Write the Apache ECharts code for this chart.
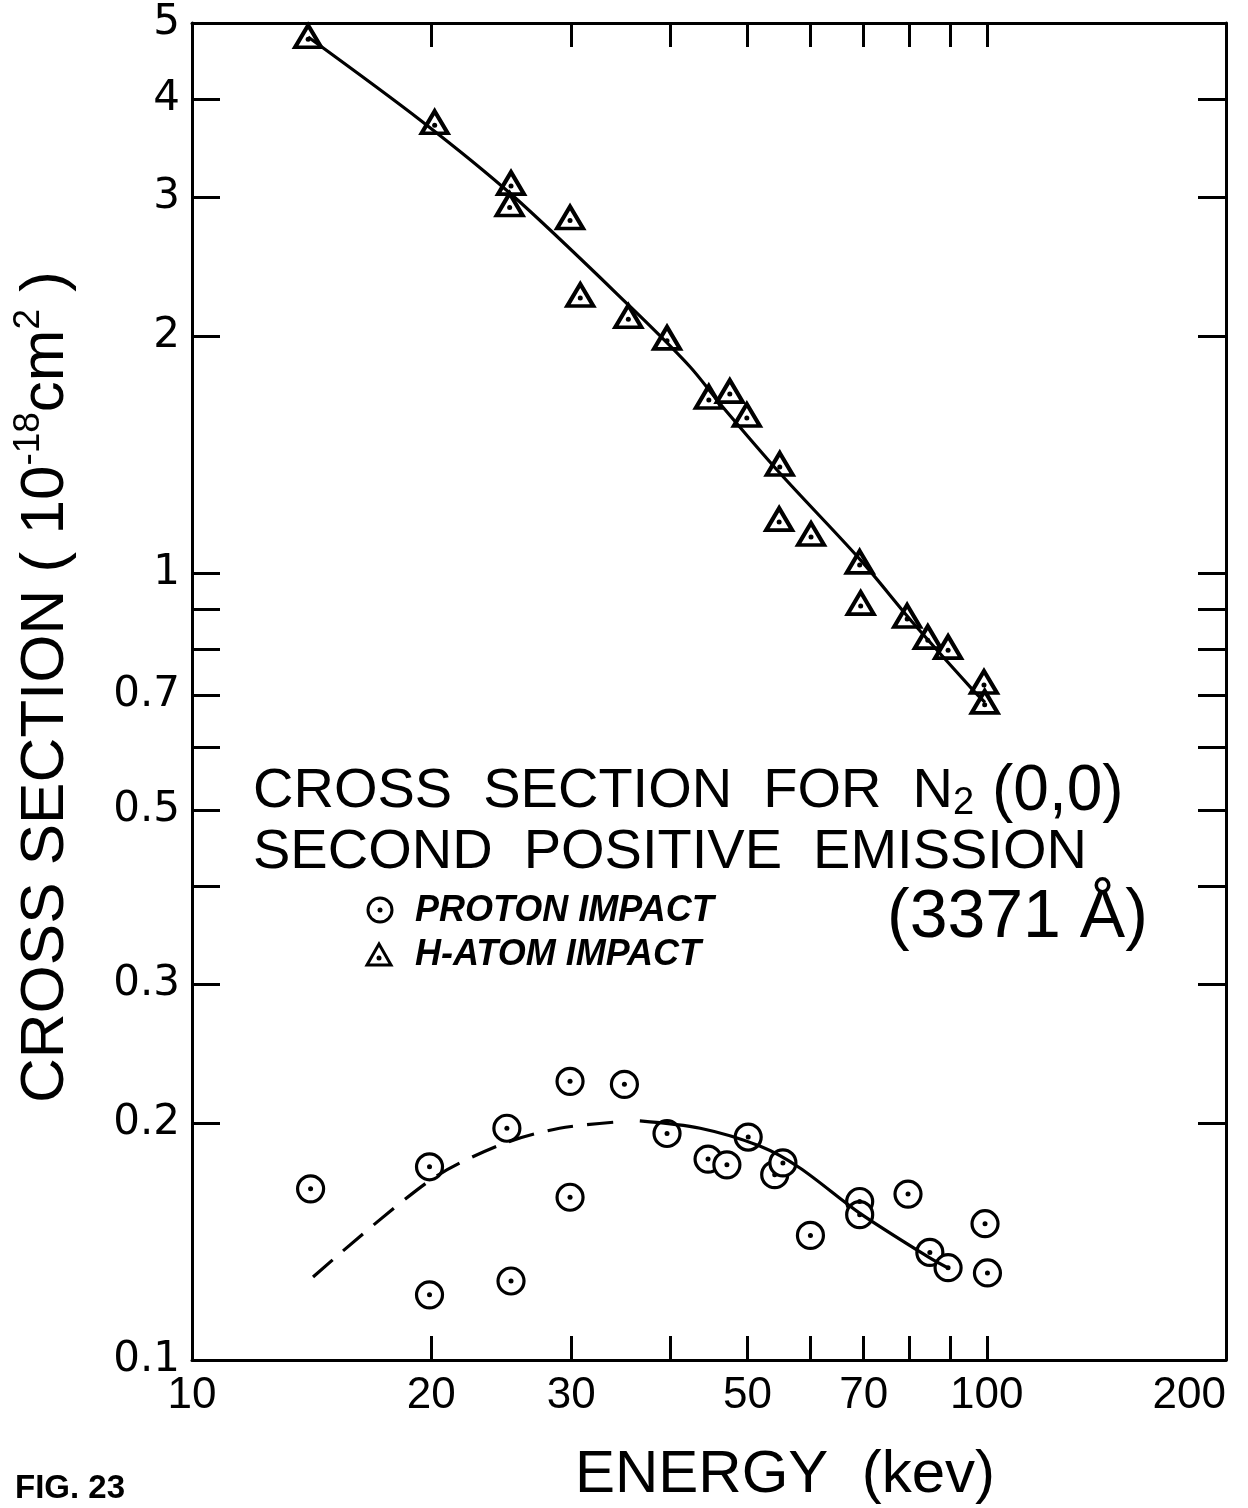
<!DOCTYPE html>
<html><head><meta charset="utf-8">
<script src="https://cdn.jsdelivr.net/npm/echarts@6/dist/echarts.min.js"></script>
<style>html,body{margin:0;padding:0;background:#fff}#c{width:1248px;height:1508px}</style>
</head><body><div id="c"></div>
<script>
// ---- tick / label values ----
const xTickValues = [20, 30, 40, 50, 60, 70, 80, 90, 100];
const xLabelValues = [10, 20, 30, 50, 70, 100, 200];
const yTickValues = [0.2, 0.3, 0.4, 0.5, 0.6, 0.7, 0.8, 0.9, 1, 2, 3, 4];
const yLabelValues = [0.1, 0.2, 0.3, 0.5, 0.7, 1, 2, 3, 4, 5];

// ---- H-atom impact (triangles) ----
const hAtomEnergy = [14, 20.2, 25.2, 25.1, 29.9, 30.8, 35.4, 39.6, 44.7, 47.5, 49.9, 54.9, 54.8, 60.1, 69.2, 69.4, 79.4, 84.3, 89.4, 99.2, 99.4];
const hAtomSigma  = [4.81, 3.74, 3.13, 2.94, 2.83, 2.256, 2.12, 1.99, 1.674, 1.703, 1.588, 1.376, 1.171, 1.121, 1.033, 0.916, 0.882, 0.829, 0.805, 0.727, 0.686];

// ---- proton impact (circles) ----
const protonEnergy = [14.1, 19.9, 19.9, 24.9, 25.2, 29.9, 29.9, 35.0, 39.6, 44.6, 47.1, 50.1, 54.1, 55.4, 60.0, 69.2, 69.2, 79.6, 84.8, 89.4, 99.5, 100.2];
const protonSigma  = [0.165, 0.176, 0.121, 0.197, 0.126, 0.226, 0.161, 0.224, 0.194, 0.180, 0.177, 0.192, 0.172, 0.178, 0.144, 0.159, 0.153, 0.1625, 0.137, 0.131, 0.149, 0.129];

// ---- fitted curves ----
const hAtomFitE = [14, 19.4, 25.3, 35.6, 42.3, 46.2, 54.9, 69.3, 80.8, 96.1, 99.5];
const hAtomFitS = [4.80, 3.76, 3.02, 2.18, 1.83, 1.64, 1.34, 1.04, 0.864, 0.71, 0.685];
const protonDashE = [14.2, 19.9, 24.4, 29.0, 35.0];
const protonDashS = [0.1275, 0.169, 0.1876, 0.197, 0.2010];
const protonSolidE = [36.6, 43.6, 51.8, 58.2, 69.2, 84.8, 89.4];
const protonSolidS = [0.2013, 0.197, 0.187, 0.1754, 0.1537, 0.1348, 0.1309];

const pairs = (a, b) => a.map((v, i) => [v, b[i]]);

const BLACK = '#000';
const axisLine = { show: true, onZero: false, lineStyle: { color: BLACK, width: 3 } };
const xTick = { show: true, inside: true, length: 24, lineStyle: { color: BLACK, width: 3 }, customValues: xTickValues };
const yTick = { show: true, inside: true, length: 28, lineStyle: { color: BLACK, width: 3 }, customValues: yTickValues };

const chart = echarts.init(document.getElementById('c'), null, { renderer: 'canvas' });
chart.setOption({
  animation: false,
  backgroundColor: '#fff',
  grid: { left: 192, right: 22, top: 23, bottom: 148, containLabel: false, outerBoundsMode: 'none' },
  xAxis: [
    { type: 'log', logBase: 10, min: 10, max: 200, position: 'bottom', axisLine, axisTick: xTick,
      splitLine: { show: false }, minorTick: { show: false },
      axisLabel: { show: true, customValues: xLabelValues, margin: 14, color: BLACK,
        fontFamily: 'Liberation Sans', fontSize: 44, alignMaxLabel: 'right',
        formatter: v => String(v) } },
    { type: 'log', logBase: 10, min: 10, max: 200, position: 'top', axisLine, axisTick: xTick,
      splitLine: { show: false }, axisLabel: { show: false } }
  ],
  yAxis: [
    { type: 'log', logBase: 10, min: 0.1, max: 5, position: 'left', axisLine, axisTick: yTick,
      splitLine: { show: false }, minorTick: { show: false },
      axisLabel: { show: true, customValues: yLabelValues, margin: 12, color: BLACK,
        fontFamily: 'DejaVu Sans', fontSize: 42, formatter: v => String(v) } },
    { type: 'log', logBase: 10, min: 0.1, max: 5, position: 'right', axisLine, axisTick: yTick,
      splitLine: { show: false }, axisLabel: { show: false } }
  ],
  series: [
    { type: 'line', name: 'H fit', data: pairs(hAtomFitE, hAtomFitS), smooth: 0.3, showSymbol: false, symbol: 'none',
      lineStyle: { color: BLACK, width: 3.2 } },
    { type: 'line', name: 'proton fit dashed', data: pairs(protonDashE, protonDashS), smooth: 0.3, symbol: 'none',
      lineStyle: { color: BLACK, width: 3.2, type: [26, 14] } },
    { type: 'line', name: 'proton fit', data: pairs(protonSolidE, protonSolidS), smooth: 0.3, symbol: 'none',
      lineStyle: { color: BLACK, width: 3.2 } },
    { type: 'scatter', name: 'H-ATOM IMPACT', data: pairs(hAtomEnergy, hAtomSigma), symbol: 'triangle', symbolSize: [26, 22],
      itemStyle: { color: '#fff', borderColor: BLACK, borderWidth: 4, opacity: 1 } },
    { type: 'scatter', name: 'H dots', data: pairs(hAtomEnergy, hAtomSigma), symbol: 'circle', symbolSize: 5, symbolOffset: [0, 3],
      itemStyle: { color: BLACK, opacity: 1 } },
    { type: 'scatter', name: 'PROTON IMPACT', data: pairs(protonEnergy, protonSigma), symbol: 'circle', symbolSize: 26,
      itemStyle: { color: '#fff', borderColor: BLACK, borderWidth: 3.2, opacity: 1 } },
    { type: 'scatter', name: 'P dots', data: pairs(protonEnergy, protonSigma), symbol: 'circle', symbolSize: 5,
      itemStyle: { color: BLACK, opacity: 1 } }
  ],
  graphic: [
    { type: 'text', x: 46, y: 687, rotation: Math.PI / 2, style: {
        text: '{m|CROSS SECTION ( 10}{s|-18}{m|cm}{s|2}{m| )}',
        align: 'center', verticalAlign: 'middle',
        rich: {
          m: { fontFamily: 'Liberation Sans', fontSize: 62, lineHeight: 72, fill: BLACK },
          s: { fontFamily: 'Liberation Sans', fontSize: 37, lineHeight: 30, verticalAlign: 'top', fill: BLACK }
        } } },
    { type: 'text', x: 785, y: 1475, style: { text: 'ENERGY  (kev)', align: 'center', verticalAlign: 'middle',
        fontFamily: 'Liberation Sans', fontSize: 60, fill: BLACK } },
    { type: 'text', x: 15, y: 1489, style: { text: 'FIG. 23', align: 'left', verticalAlign: 'middle',
        fontFamily: 'Liberation Sans', fontWeight: 'bold', fontSize: 33, fill: BLACK } },
    { type: 'text', x: 253, y: 792, style: {
        text: '{a|CROSS  SECTION  FOR  N}{b|2}{c| (0,0)}', align: 'left', verticalAlign: 'middle',
        rich: {
          a: { fontFamily: 'Liberation Sans', fontSize: 56, lineHeight: 62, fill: BLACK },
          b: { fontFamily: 'Liberation Sans', fontSize: 38, lineHeight: 22, verticalAlign: 'bottom', fill: BLACK },
          c: { fontFamily: 'Liberation Sans', fontSize: 64, lineHeight: 62, fill: BLACK }
        } } },
    { type: 'text', x: 253, y: 853, style: { text: 'SECOND  POSITIVE  EMISSION', align: 'left', verticalAlign: 'middle',
        fontFamily: 'Liberation Sans', fontSize: 56, fill: BLACK } },
    { type: 'text', x: 887, y: 918, style: { text: '(3371 Å)', align: 'left', verticalAlign: 'middle',
        fontFamily: 'Liberation Sans', fontSize: 68, fill: BLACK } },
    // legend
    { type: 'circle', shape: { cx: 380, cy: 910, r: 12 }, style: { fill: '#fff', stroke: BLACK, lineWidth: 3 } },
    { type: 'circle', shape: { cx: 380, cy: 910, r: 2.5 }, style: { fill: BLACK } },
    { type: 'text', x: 415, y: 911, style: { text: 'PROTON IMPACT', align: 'left', verticalAlign: 'middle',
        fontFamily: 'Liberation Sans', fontStyle: 'italic', fontWeight: 'bold', fontSize: 36, fill: BLACK } },
    { type: 'polygon', shape: { points: [[367, 965], [379, 944], [391, 965]] }, style: { fill: '#fff', stroke: BLACK, lineWidth: 3 } },
    { type: 'circle', shape: { cx: 379, cy: 958, r: 2.5 }, style: { fill: BLACK } },
    { type: 'text', x: 415, y: 955, style: { text: 'H-ATOM IMPACT', align: 'left', verticalAlign: 'middle',
        fontFamily: 'Liberation Sans', fontStyle: 'italic', fontWeight: 'bold', fontSize: 36, fill: BLACK } }
  ]
});
</script>
</body></html>
